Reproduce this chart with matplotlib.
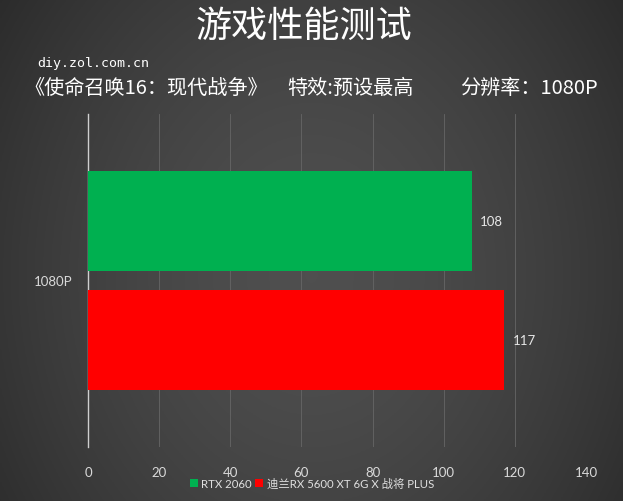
import numpy as np
import matplotlib
matplotlib.use("Agg")
import matplotlib.pyplot as plt

plt.rcParams['font.family'] = ['Noto Sans CJK SC', 'DejaVu Sans']

# data
category = "1080P"
series = ["RTX 2060", "迪兰RX 5600 XT 6G X 战将 PLUS"]
values = [108, 117]
colors = ["#00b050", "#ff0000"]
xticks = [0, 20, 40, 60, 80, 100, 120, 140]

W, H = 623, 502
fig = plt.figure(figsize=(W / 100, H / 100), dpi=100)

# dark radial background
bg = fig.add_axes([0, 0, 1, 1], zorder=-10)
gx, gy = np.meshgrid(np.linspace(0, 1, 300), np.linspace(0, 1, 240))
r = np.sqrt(((gx - 0.5) / 0.62) ** 2 + ((gy - 0.45) / 0.95) ** 2)
shade = 0.31 - 0.14 * np.clip(r, 0, 1) ** 1.6
bg.imshow(np.dstack([shade] * 3), extent=[0, 1, 0, 1], aspect='auto', origin='lower')
bg.axis('off')

def fx(px):
    return px / W

def fy(py):
    return 1 - py / H

ax = fig.add_axes([fx(88), fy(448), fx(586) - fx(88), fy(115) - fy(448)])
ax.patch.set_alpha(0)

height = 0.4
offsets = [0.24, -0.24]
for name, v, c, off in zip(series, values, colors, offsets):
    ax.barh(off, v, height=height, color=c, label=name, zorder=3)
    ax.text(v + 2.3, off, str(v), color="#e6e6e6", fontsize=9.5,
            family=['Lato', 'DejaVu Sans'], va='center', ha='left')

ax.set_xlim(0, 140)
ax.set_ylim(-0.67, 0.67)
ax.set_xticks(xticks)
ax.set_xticklabels([str(t) for t in xticks], family=['Lato', 'DejaVu Sans'])
ax.set_yticks([0])
ax.set_yticklabels([category], family=['Lato', 'DejaVu Sans'])
ax.tick_params(axis='both', length=0, colors="#d9d9d9", labelsize=9.5)
ax.tick_params(axis='x', pad=14)
ax.tick_params(axis='y', pad=11)
ax.grid(axis='x', color="#666666", linewidth=0.6, zorder=0)
for s in ['top', 'right', 'bottom']:
    ax.spines[s].set_visible(False)
ax.spines['left'].set_color("#cfcfcf")
ax.spines['left'].set_linewidth(1.0)

# titles
fig.text(fx(304), fy(27), "游戏性能测试", color="white", fontsize=26,
         ha='center', va='center')
fig.text(fx(37), fy(63), "diy.zol.com.cn", color="white", fontsize=9.5,
         family=['DejaVu Sans Mono'], ha='left', va='center')
fig.text(fx(24), fy(88), "《使命召唤16：现代战争》", color="white", fontsize=14.5,
         ha='left', va='center')
fig.text(fx(287), fy(88), "特效:预设最高", color="white", fontsize=14.5,
         ha='left', va='center')
fig.text(fx(460), fy(88), "分辨率：1080P", color="white", fontsize=14.5,
         ha='left', va='center')

# legend
leg = fig.legend(loc='center', bbox_to_anchor=(fx(312), fy(484)), ncol=2,
                 frameon=False, handlelength=0.7, handleheight=0.7,
                 handletextpad=0.3, columnspacing=0.3, labelcolor="#e0e0e0",
                 prop={'family': ['Lato', 'Noto Sans CJK SC'], 'size': 8.2})

fig.savefig("out.png", dpi=100)
